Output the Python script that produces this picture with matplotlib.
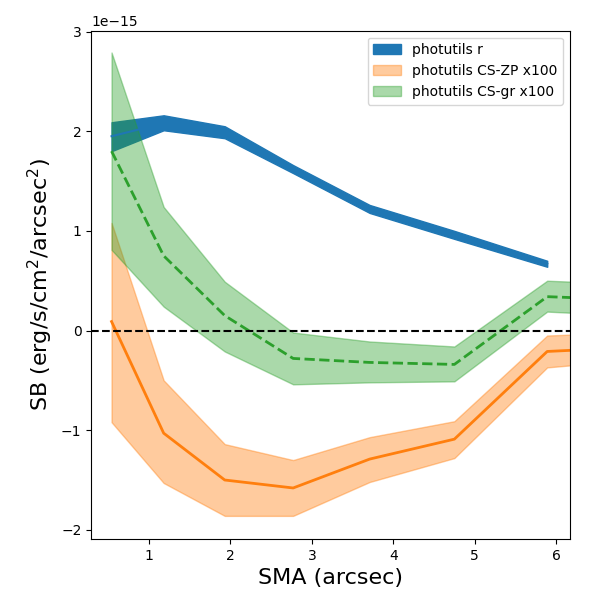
import numpy as np
import matplotlib
matplotlib.use("Agg")
import matplotlib.pyplot as plt

# SMA in arcsec
sma = [0.54, 1.18, 1.93, 2.77, 3.71, 4.75, 5.89, 7.15]

# photutils r profile (units of 1e-15), no value at last radius
r_sb = [1.95, 2.08, 1.99, 1.62, 1.22, 0.96, 0.67, np.nan]
r_lo = [1.80, 2.01, 1.93, 1.58, 1.18, 0.92, 0.64, np.nan]
r_hi = [2.09, 2.16, 2.05, 1.66, 1.26, 1.00, 0.70, np.nan]

# colour-term zero point, scaled x100
zp_sb = [0.09, -1.03, -1.50, -1.58, -1.29, -1.09, -0.21, -0.16]
zp_lo = [-0.92, -1.53, -1.86, -1.86, -1.52, -1.28, -0.37, -0.28]
zp_hi = [1.08, -0.50, -1.14, -1.30, -1.07, -0.91, -0.05, -0.01]

# colour-term g-r, scaled x100
gr_sb = [1.80, 0.75, 0.15, -0.28, -0.32, -0.34, 0.34, 0.30]
gr_lo = [0.81, 0.24, -0.21, -0.54, -0.52, -0.51, 0.19, 0.14]
gr_hi = [2.79, 1.24, 0.49, -0.02, -0.11, -0.16, 0.50, 0.46]

scale = 1e-15
x = np.array(sma)

fig, ax = plt.subplots(figsize=(6, 6), dpi=100)
fig.subplots_adjust(left=0.152, right=0.95, bottom=0.102, top=0.949)

ax.fill_between(x, np.array(r_lo) * scale, np.array(r_hi) * scale,
                color='C0', label='photutils r')
ax.plot(x, np.array(r_sb) * scale, color='C0')

ax.fill_between(x, np.array(zp_lo) * scale, np.array(zp_hi) * scale,
                color='C1', alpha=0.4, label='photutils CS-ZP x100')
ax.plot(x, np.array(zp_sb) * scale, color='C1', lw=2)

ax.fill_between(x, np.array(gr_lo) * scale, np.array(gr_hi) * scale,
                color='C2', alpha=0.4, label='photutils CS-gr x100')
ax.plot(x, np.array(gr_sb) * scale, color='C2', ls='--', lw=2)

ax.axhline(0, ls='--', color='k')

ax.set_xlim(0.29, 6.17)
ax.set_ylim(-2.09e-15, 3.01e-15)
ax.set_xlabel('SMA (arcsec)', fontsize=16)
ax.set_ylabel('SB (erg/s/cm$^2$/arcsec$^2$)', fontsize=16)
ax.legend(loc='upper right')

fig.savefig('out.png')
